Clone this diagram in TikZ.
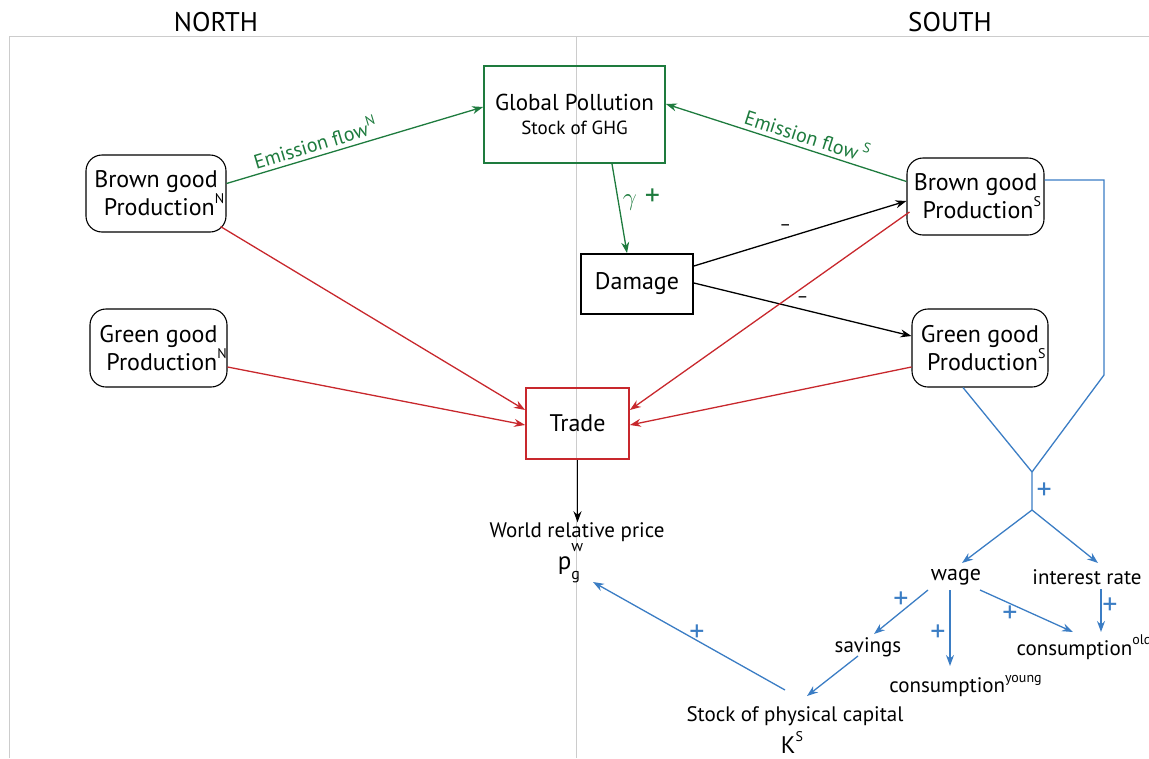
\documentclass[tikz,border=0pt]{standalone}
\usepackage{fontspec}
\setmainfont{PT Sans}
\usetikzlibrary{arrows.meta,calc}
\definecolor{pgreen}{HTML}{1E7B3E}
\definecolor{pred}{HTML}{C8282D}
\definecolor{pblue}{HTML}{3B7DC4}
\definecolor{pgray}{HTML}{CCCCCC}
\newcommand\mysup[1]{\raisebox{0.5em}{\fontsize{14}{14}\selectfont #1}}
\begin{document}
\begin{tikzpicture}[x=1pt,y=-1pt,
  font=\fontsize{24}{28}\selectfont,
  rbox/.style={draw,rounded corners=16pt,line width=1.1pt,align=center,inner sep=0pt},
  sbox/.style={draw,line width=1.8pt,align=center,inner sep=0pt},
  txt/.style={inner sep=0pt,align=center},
  lbl/.style={txt,font=\fontsize{21}{24}\selectfont},
  tip/.style={-{Stealth[length=11pt,width=8pt]}},
  garrow/.style={tip,pgreen,line width=1.3pt},
  rarrow/.style={tip,pred,line width=1.3pt},
  barrow/.style={tip,black,line width=1.3pt},
  blarrow/.style={tip,pblue,line width=1.3pt},
  bline/.style={pblue,line width=1.3pt},
  plus/.style={pblue,font=\fontsize{30}{30}\selectfont,inner sep=0pt},
  minus/.style={black,font=\fontsize{18}{18}\selectfont,inner sep=0pt},
  glabel/.style={pgreen,font=\fontsize{20}{22}\selectfont,inner sep=4pt},
  grayline/.style={pgray,line width=1pt}
]
\useasboundingbox (0,0) rectangle (1149,758);
% frame lines
\coordinate (tl) at (9,36);
\coordinate (tr) at (1149,36);
\coordinate (bl) at (9,758);
\coordinate (mt) at (576,36);
\coordinate (mb) at (576,758);
\draw[grayline] (bl) -- (tl) -- (tr);
\draw[grayline] (mt) -- (mb);
\node[txt,font=\fontsize{27}{27}\selectfont] (north) at (216,22) {NORTH};
\node[txt,font=\fontsize{27}{27}\selectfont] (south) at (950,22) {SOUTH};

% boxes
\node[sbox,draw=pgreen,minimum width=181pt,minimum height=97pt] (gp) at (574.5,114.5)
  {{\fontsize{23}{26}\selectfont Global Pollution}\\[-4pt]{\fontsize{19}{22}\selectfont Stock of GHG}};
\node[rbox,minimum width=140pt,minimum height=77pt] (bn) at (156,193.5) {Brown good\\\phantom{N}Production\mysup{N}};
\node[rbox,minimum width=137pt,minimum height=78pt] (gn) at (158.5,348) {Green good\\\phantom{N}Production\mysup{N}};
\node[sbox,draw=black,minimum width=112pt,minimum height=60pt] (dm) at (637,284) {Damage};
\node[rbox,minimum width=137pt,minimum height=77pt] (bs) at (975.5,196.5) {Brown good\\\phantom{S}Production\mysup{S}};
\node[rbox,minimum width=136pt,minimum height=78pt] (gs) at (980,348) {Green good\\\phantom{S}Production\mysup{S}};
\node[sbox,draw=pred,minimum width=103pt,minimum height=71pt] (trd) at (577.5,423.5) {Trade};

% text nodes
\node[lbl] (wrp) at (577,532) {World relative price};
\node[txt,font=\fontsize{25}{25}\selectfont] (pgw) at (569,563) {p\rlap{\raisebox{0.7em}{\fontsize{16}{16}\selectfont w}}\raisebox{-0.4em}{\fontsize{16}{16}\selectfont g}};
\node[txt,font=\fontsize{22}{24}\selectfont] (wage) at (956,577) {wage};
\node[lbl] (ir) at (1087,577) {interest rate};
\node[lbl] (sav) at (868,647) {savings};
\node[lbl] (cy) at (965.5,686) {consumption\mysup{young}};
\node[lbl] (co) at (1084,647) {consumption\mysup{old}};
\node[lbl] (stk) at (795,716) {Stock of physical capital};
\node[txt,font=\fontsize{24}{24}\selectfont] (ks) at (792,743) {K\mysup{S}};

% green arrows
\draw[garrow] ($(bn.east)+(0,-10)$) -- node[glabel,pos=0.36,sloped,above] {Emission flow\mysup{N}} ($(gp.west)+(0,-7.5)$);
\draw[garrow] ($(bs.west)+(0,-15)$) -- node[glabel,pos=0.43,sloped,above] {Emission flow\,\mysup{S}} ($(gp.east)+(0,-10.5)$);
\draw[garrow] ($(gp.south)+(37.5,0)$) -- node[right,pgreen,font=\fontsize{30}{30}\selectfont,pos=0.4,xshift=1pt] {$\gamma$ +} ($(dm.north)+(-10,0)$);

% black arrows
\draw[barrow] ($(dm.east)+(0,-18)$) -- node[minus,pos=0.43,above=7pt] {–} ($(bs.west)+(0,4.5)$);
\draw[barrow] ($(dm.east)+(0,-1)$) -- node[minus,pos=0.5,above=6pt] {–} ($(gs.west)+(0,-12)$);
\draw[barrow] (trd.south) -- (trd.south |- wrp.north);

% red arrows
\draw[rarrow] ($(bn.south east)+(-6,-6)$) -- ($(trd.west)+(0,-13.5)$);
\draw[rarrow] ($(gn.east)+(0,19)$) -- ($(trd.west)+(0,1.5)$);
\draw[rarrow] ($(bs.west)+(3,15.5)$) -- ($(trd.east)+(0,-13.5)$);
\draw[rarrow] ($(gs.west)+(0,19)$) -- ($(trd.east)+(0,1.5)$);

% blue tree
\coordinate (c1) at (1104,180);
\coordinate (c2) at (1104,375);
\coordinate (j) at (1032,472);
\coordinate (f) at (1032,510);
\draw[bline] ($(bs.east)+(0,-16.5)$) -- (c1) -- (c2) -- (j);
\draw[bline] ($(gs.south)+(-17,0)$) -- (j) -- node[plus,right=4pt] {+} (f);
\draw[blarrow] (f) -- ($(wage.center)+(6,-14)$);
\draw[blarrow] (f) -- ($(ir.center)+(11,-14)$);
\draw[blarrow] ($(wage.center)+(-28,13)$) -- ($(sav.center)+(6,-13)$);
\draw[blarrow] ($(wage.center)+(-6,13)$) -- ($(cy.center)+(-15.5,-20)$);
\draw[blarrow] ($(wage.center)+(24,13)$) -- ($(co.center)+(-11,-15)$);
\draw[blarrow] ($(ir.center)+(14,12)$) -- ($(co.center)+(17,-15)$);
\draw[blarrow] ($(sav.center)+(-10,9)$) -- ($(stk.center)+(12,-20)$);
\draw[blarrow] ($(stk.center)+(-10,-26)$) -- ($(pgw.center)+(24,19)$);
\node[plus] (p1) at (901,600) {+};
\node[plus] (p2) at (938,633) {+};
\node[plus] (p3) at (1010,614) {+};
\node[plus] (p4) at (1110,606) {+};
\node[plus] (p5) at (697,633) {+};
\end{tikzpicture}
\end{document}
